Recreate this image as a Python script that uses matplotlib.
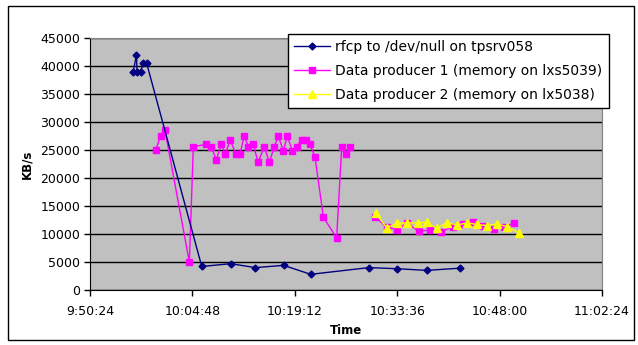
import matplotlib
matplotlib.use("Agg")
import matplotlib.pyplot as plt
import numpy as np

plt.rcParams["font.family"] = ["DejaVu Sans"]

# values (time, KB/s)
rfcp_times = ["9:56:29", "9:56:56", "9:57:01", "9:57:32", "9:57:49", "9:58:22",
              "10:06:07", "10:10:11", "10:13:39", "10:17:38", "10:21:26",
              "10:29:38", "10:33:37", "10:37:45", "10:42:26"]
rfcp_kbs = [39000, 42000, 39000, 39000, 40500, 40500,
            4200, 4700, 4000, 4400, 2800, 4000, 3800, 3500, 3900]

prod1_times_a = ["9:59:38", "10:00:20", "10:00:57", "10:04:22", "10:04:56",
                 "10:06:43", "10:07:25", "10:08:10", "10:08:52", "10:09:26",
                 "10:10:08", "10:10:53", "10:11:29", "10:12:06", "10:12:40",
                 "10:13:22", "10:14:02", "10:14:55", "10:15:37", "10:16:19",
                 "10:16:53", "10:17:35", "10:18:09", "10:18:51", "10:19:28",
                 "10:20:10", "10:20:47", "10:21:20", "10:22:02", "10:23:13",
                 "10:25:05", "10:25:48", "10:26:22", "10:26:58"]
prod1_kbs_a = [25000, 27500, 28500, 5000, 25600,
               26000, 25600, 23300, 26000, 24300,
               26800, 24300, 24300, 27500, 25600,
               26000, 22800, 25600, 22800, 25600,
               27450, 24900, 27450, 24900, 25600,
               26800, 26800, 26000, 23800, 13000,
               9300, 25600, 24300, 25600]

prod1_times_b = ["10:30:29", "10:32:07", "10:33:34", "10:35:01", "10:36:37",
                 "10:38:13", "10:39:46", "10:41:24", "10:42:54", "10:44:13",
                 "10:45:37", "10:47:13", "10:48:37", "10:50:04"]
prod1_kbs_b = [13100, 11200, 10800, 11900, 10500,
               10700, 10400, 11300, 11700, 12100,
               11500, 10900, 11200, 12000]

prod2_times = ["10:30:37", "10:32:07", "10:33:34", "10:35:01", "10:36:29",
               "10:37:45", "10:39:09", "10:40:34", "10:42:01", "10:43:28",
               "10:44:47", "10:46:14", "10:47:38", "10:49:05", "10:50:41"]
prod2_kbs = [13700, 11100, 11900, 12000, 12000,
             12100, 11000, 12000, 11600, 12000,
             11700, 11500, 11800, 11300, 10200]

x_ticks = ["9:50:24", "10:04:48", "10:19:12", "10:33:36", "10:48:00", "11:02:24"]
y_ticks = [0, 5000, 10000, 15000, 20000, 25000, 30000, 35000, 40000, 45000]


def to_day(s):
    h, m, sec = map(int, s.split(":"))
    return (h * 3600 + m * 60 + sec) / 86400.0


def days(lst):
    return np.array([to_day(s) for s in lst])


W, H = 638, 345
fig = plt.figure(figsize=(W / 100, H / 100), dpi=100)
ax = fig.add_axes([90 / W, 1 - 290 / H, 512 / W, 252 / H])
ax.set_facecolor("#C0C0C0")

navy = "#000080"
mag = "#FF00FF"
yel = "#FFFF00"

ax.plot(days(rfcp_times), rfcp_kbs, color=navy, lw=1, marker="D", ms=3.5,
        mec=navy, mfc=navy, label="rfcp to /dev/null on tpsrv058", zorder=4)
ax.plot(days(prod1_times_a), prod1_kbs_a, color=mag, lw=1, marker="s", ms=5,
        mec=mag, mfc=mag, label="Data producer 1 (memory on lxs5039)", zorder=3)
ax.plot(days(prod1_times_b), prod1_kbs_b, color=mag, lw=1, marker="s", ms=5,
        mec=mag, mfc=mag, zorder=3)
ax.plot(days(prod2_times), prod2_kbs, color=yel, lw=1, marker="^", ms=5.5,
        mec=yel, mfc=yel, label="Data producer 2 (memory on lx5038)", zorder=5)

ax.set_xlim(to_day(x_ticks[0]), to_day(x_ticks[-1]))
ax.set_ylim(0, 45000)
ax.set_xticks(days(x_ticks))
ax.set_xticklabels(x_ticks)
ax.set_yticks(y_ticks)
ax.set_yticklabels([str(v) for v in y_ticks])
ax.yaxis.grid(True, color="black", lw=1)
ax.set_axisbelow(True)
ax.tick_params(labelsize=9, length=4, width=1, direction="out")
ax.tick_params(axis="x", pad=7)
ax.tick_params(axis="y", pad=3)

for side in ["top", "right"]:
    ax.spines[side].set_color("#808080")
for side in ["left", "bottom"]:
    ax.spines[side].set_color("black")

ax.set_xlabel("Time", fontsize=8.5, fontweight="bold", labelpad=4)
ax.set_ylabel("KB/s", fontsize=8.5, fontweight="bold", labelpad=5)

leg = fig.legend(loc="upper left", bbox_to_anchor=(288 / W, 1 - 34 / H),
                 fontsize=10, frameon=True, fancybox=False, shadow=False,
                 handlelength=2.6, labelspacing=0.7, borderpad=0.45,
                 handletextpad=0.35, borderaxespad=0)
leg.get_frame().set_edgecolor("black")
leg.get_frame().set_linewidth(1)
leg.get_frame().set_alpha(1)

# chart border
fig.add_artist(plt.Rectangle((8 / W, 5 / H), 626 / W, 334 / H,
                             transform=fig.transFigure, fill=False,
                             ec="black", lw=1))

fig.savefig("out.png", dpi=100)
